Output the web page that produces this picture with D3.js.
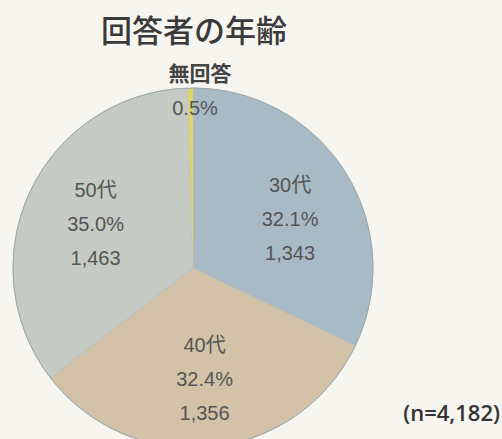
<!DOCTYPE html>
<html>
<head>
<meta charset="utf-8">
<script src="https://cdn.jsdelivr.net/npm/d3@7"></script>
<style>
  html, body { margin: 0; padding: 0; background: #f6f5ef; }
  svg { display: block; }
</style>
</head>
<body>
<div id="chart"></div>
<script>
// 回答者の年齢 (n=4,182)
const categories = ['30代', '40代', '50代', '無回答'];
const counts = [1343, 1356, 1463, 20];
const percents = ['32.1%', '32.4%', '35.0%', '0.5%'];
const sliceColors = ['#a8bac6', '#d3c2a7', '#c6cac4', '#dcd46a'];

const width = 502, height = 439;
const cx = 193, cy = 268, radius = 180;

const svg = d3.select('#chart').append('svg')
    .attr('width', width)
    .attr('height', height);

const font = '"Liberation Sans", "Noto Sans CJK JP", sans-serif';

const data = categories.map((c, i) => ({ name: c, value: counts[i], pct: percents[i], color: sliceColors[i] }));

const pie = d3.pie().value(d => d.value).sort(null);
const arc = d3.arc().innerRadius(0).outerRadius(radius);
const labelArc = d3.arc().innerRadius(110).outerRadius(110);

const g = svg.append('g').attr('transform', `translate(${cx},${cy})`);
const arcs = pie(data);

g.selectAll('path.slice')
    .data(arcs)
    .join('path')
    .attr('class', 'slice')
    .attr('d', arc)
    .attr('fill', d => d.data.color)
    .attr('stroke', d => d.data.name === '無回答' ? 'none' : '#b9bdb6')
    .attr('stroke-width', 0.8);

// outline
g.append('circle')
    .attr('r', radius)
    .attr('fill', 'none')
    .attr('stroke', '#9aa8ae')
    .attr('stroke-width', 1);

// small hand nudges so the label blocks sit where the original put them
const nudge = { '30代': [4, 10], '40代': [0, 2], '50代': [2, 3] };

const lh = 34;
const main = arcs.filter(d => d.data.name !== '無回答');
main.forEach(d => {
    const [x0, y0] = labelArc.centroid(d);
    const [nx, ny] = nudge[d.data.name] || [0, 0];
    const x = x0 + nx, y = y0 + ny;
    const lines = [d.data.name, d.data.pct, d3.format(',')(d.data.value)];
    lines.forEach((t, i) => {
        g.append('text')
            .attr('x', x)
            .attr('y', y + (i - 1) * lh + 7)
            .attr('text-anchor', 'middle')
            .attr('font-family', font)
            .attr('font-size', 20)
            .attr('fill', '#555')
            .text(t);
    });
});

// 無回答 label above the thin slice
const na = arcs.find(d => d.data.name === '無回答');
svg.append('text')
    .attr('x', 200).attr('y', 81)
    .attr('text-anchor', 'middle')
    .attr('font-family', font)
    .attr('font-size', 21)
    .attr('font-weight', 'bold')
    .attr('fill', '#444')
    .text(na.data.name);
svg.append('text')
    .attr('x', 195).attr('y', 115)
    .attr('text-anchor', 'middle')
    .attr('font-family', font)
    .attr('font-size', 20)
    .attr('fill', '#555')
    .text(na.data.pct);

// title
svg.append('text')
    .attr('x', 194).attr('y', 42)
    .attr('text-anchor', 'middle')
    .attr('font-family', '"Noto Sans CJK JP", sans-serif')
    .attr('font-size', 31)
    .attr('font-weight', 500)
    .attr('fill', '#3a3a3a')
    .text('回答者の年齢');

// sample size
svg.append('text')
    .attr('x', 500).attr('y', 421)
    .attr('text-anchor', 'end')
    .attr('font-family', '"Open Sans", "Noto Sans", sans-serif')
    .attr('font-size', 22)
    .attr('font-weight', 600)
    .attr('fill', '#333')
    .text('(n=' + d3.format(',')(d3.sum(counts)) + ')');
</script>
</body>
</html>
